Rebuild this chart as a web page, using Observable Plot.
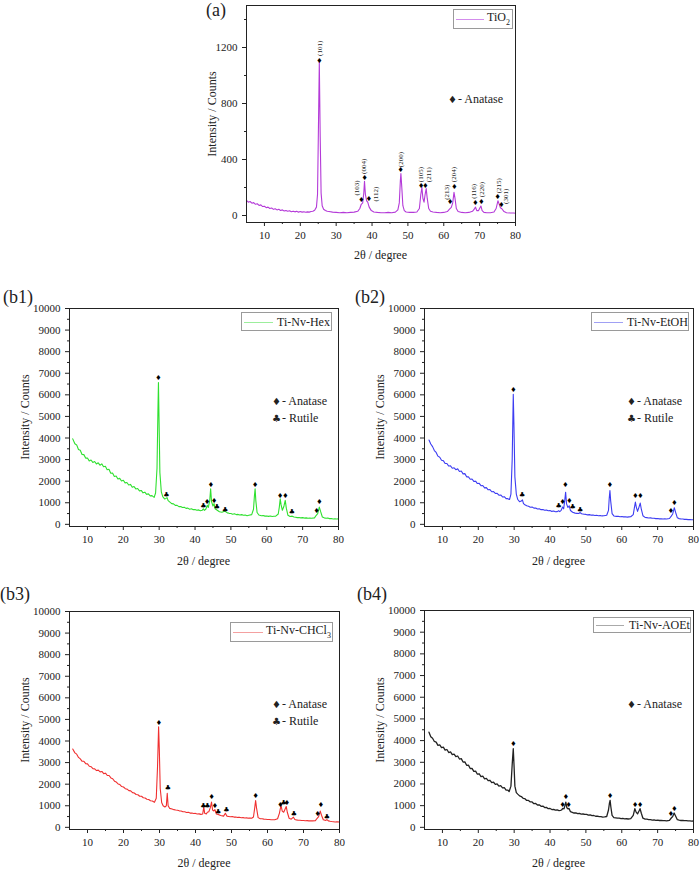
<!DOCTYPE html>
<html>
<head>
<meta charset="utf-8">
<script src="https://cdn.jsdelivr.net/npm/d3@7"></script>
<script src="https://cdn.jsdelivr.net/npm/@observablehq/plot@0.6"></script>
<style>
  body { margin: 0; background: #fff; }
  #fig { position: relative; width: 700px; height: 871px; overflow: hidden;
         font-family: "Liberation Serif", "Times New Roman", serif; color: #222; }
  #fig svg { position: absolute; }
  .abs { position: absolute; white-space: nowrap; line-height: 1; }
  .tag { font-size: 18px; }
  .title { font-size: 12px; transform: translate(-50%, -50%); }
  .ytitle { font-size: 12px; transform: translate(-50%, -50%) rotate(-90deg); }
  .key { border: 1px solid #9a9a9a; background: #fff; font-size: 12px; box-sizing: border-box; }
  .key .ln { position: absolute; height: 0; border-top: 1px solid; top: 50%; }
  .key .tx { position: absolute; top: 50%; transform: translateY(-50%); }
  .phase { font-size: 12px; transform: translateY(-50%); }
  .glyph { font-family: "DejaVu Sans", sans-serif; font-size: 10px; display: inline-block; width: 7px; text-align: center; }
</style>
</head>
<body>
<div id="fig"></div>
<script>
// ---- axis ticks ----
const xMajor = [10, 20, 30, 40, 50, 60, 70, 80];
const xMinor = [15, 25, 35, 45, 55, 65, 75];
const aMajor = [0, 400, 800, 1200];
const aMinor = [200, 600, 1000, 1400];
const bMajor = [0, 1000, 2000, 3000, 4000, 5000, 6000, 7000, 8000, 9000, 10000];
const bMinor = [500, 1500, 2500, 3500, 4500, 5500, 6500, 7500, 8500, 9500];

// ---- (a) TiO2 pattern: [2θ, counts] ----
const tio2 = [[5,108],[5.5,95],[6,100],[6.5,88],[7,92],[7.5,80],[8,84],[8.5,72],[9,76],[9.5,64],[10,66],[10.5,56],[11,60],[11.5,50],[12,54],[12.5,44],[13,48],[13.5,40],[14,44],[14.5,36],[15,40],[15.5,32],[16,36],[16.5,30],[17,34],[17.5,27],[18,31],[18.5,26],[19,30],[19.5,24],[20,28],[20.5,24],[21,27],[21.5,23],[22,26],[22.5,24],[23,28],[23.5,30],[24,38],[24.5,60],[24.8,150],[25.0,520],[25.3,1095],[25.55,560],[25.8,160],[26.1,70],[26.5,45],[27,36],[27.5,30],[28,28],[29,24],[30,22],[31,20],[32,22],[33,20],[34,22],[35,24],[36,30],[36.6,50],[37.0,80],[37.4,90],[37.7,160],[37.9,245],[38.15,150],[38.5,105],[38.8,95],[39.2,60],[39.8,35],[40.5,25],[41.5,22],[42.5,20],[43.5,20],[44.5,22],[45.5,20],[46.5,24],[47.2,40],[47.6,90],[47.9,250],[48.05,300],[48.3,200],[48.6,70],[49,35],[49.5,25],[50.5,22],[51.5,22],[52.5,25],[53.2,50],[53.6,150],[53.9,200],[54.2,120],[54.5,95],[54.8,150],[55.1,192],[55.4,120],[55.8,50],[56.3,30],[57,25],[58,22],[59,20],[60,22],[61,28],[61.6,45],[62.1,58],[62.5,90],[62.85,165],[63.15,120],[63.5,50],[64,28],[65,22],[66,20],[67,22],[68,30],[68.5,45],[68.85,60],[69.2,35],[69.7,35],[70.1,55],[70.35,68],[70.7,35],[71.2,22],[72,20],[73,20],[74,25],[74.6,50],[75.1,105],[75.4,85],[75.8,55],[76.2,48],[76.8,28],[77.5,20],[78.5,18],[79.5,18],[80,16]];
const tio2Anatase = [[25.3,1105],[37.0,114],[37.95,273],[39.1,121],[48.0,330],[53.7,211],[54.9,211],[61.75,95],[62.97,207],[68.85,88],[70.5,100],[75.0,135],[76.1,74]];
const hklText = ["(101)","(103)","(004)","(112)","(200)","(105)","(211)","(213)","(204)","(116)","(220)","(215)","(301)"];
const hklTheta = [25.3, 35.7, 37.8, 40.9, 48.0, 53.6, 55.8, 60.9, 62.8, 68.4, 70.7, 75.4, 77.2];
const hklCounts = [1140, 143, 297, 100, 345, 238, 238, 112, 238, 119, 131, 159, 83];

// ---- (b1) Ti-Nv-Hex ----
const hex = [[5.9,3960],[6.5,3730],[7,3680],[7.5,3470],[8,3430],[8.5,3240],[9,3230],[9.5,3070],[10,3070],[10.5,2940],[11,2980],[11.5,2870],[12,2910],[12.5,2800],[13,2850],[13.5,2740],[14,2800],[14.5,2670],[15,2690],[15.5,2530],[16,2550],[16.5,2370],[17,2380],[17.5,2220],[18,2240],[18.5,2100],[19,2130],[19.5,2010],[20,2040],[20.5,1920],[21,1940],[21.5,1820],[22,1850],[22.5,1720],[23,1750],[23.5,1640],[24,1660],[24.5,1550],[25,1570],[25.5,1460],[26,1490],[26.5,1390],[27,1410],[27.5,1320],[28,1330],[28.6,1250],[29.0,1450],[29.4,2600],[29.65,5200],[29.8,6570],[29.95,5000],[30.2,2400],[30.6,1500],[31,1280],[31.5,1180],[31.9,1200],[32.2,1240],[32.5,1100],[33,1030],[33.5,960],[34,950],[34.5,880],[35,880],[35.5,820],[36,830],[36.5,780],[37,790],[37.5,740],[38,750],[38.5,700],[39,720],[39.5,680],[40,690],[40.5,650],[41,670],[41.5,630],[42,650],[42.3,720],[42.6,650],[43.0,700],[43.4,880],[43.7,780],[44.1,1100],[44.35,1650],[44.6,1050],[45.0,850],[45.3,960],[45.6,720],[46.2,650],[46.8,580],[47.5,560],[48.2,610],[48.5,590],[49,530],[49.5,510],[50,500],[50.5,470],[51,490],[51.5,450],[52,460],[52.5,430],[53,450],[53.5,420],[54,430],[54.5,400],[55,420],[55.8,450],[56.3,700],[56.55,1300],[56.75,1646],[56.95,1100],[57.3,550],[57.8,430],[58.5,400],[59,410],[59.5,380],[60,390],[60.5,370],[61,385],[61.5,360],[62,375],[62.5,380],[63.2,480],[63.5,800],[63.75,1185],[64.0,900],[64.35,650],[64.8,850],[65.15,1108],[65.45,750],[65.9,420],[66.5,360],[67.1,380],[67.6,340],[68,330],[68.5,310],[69,320],[69.5,300],[70,310],[70.5,290],[71,300],[71.5,280],[72,295],[72.5,285],[73.3,300],[73.8,420],[74.2,500],[74.65,800],[75.0,600],[75.5,340],[76,300],[76.5,280],[77,290],[77.5,265],[78,270],[78.5,250],[79,262],[79.5,245],[80,255]];
const hexAnatase = [[29.8,6800],[43.4,1062],[44.4,1815],[45.3,1108],[56.75,1846],[63.7,1308],[65.2,1308],[73.9,615],[74.7,1030]];
const hexRutile = [[32.0,1370],[42.3,877],[46.1,800],[48.4,677],[67.0,570]];

// ---- (b2) Ti-Nv-EtOH ----
const etoh = [[6.25,3910],[6.75,3720],[7.25,3600],[7.75,3420],[8.25,3330],[8.75,3160],[9.25,3110],[9.75,2970],[10.25,2950],[10.75,2820],[11.25,2820],[11.75,2700],[12.25,2710],[12.75,2600],[13.25,2620],[13.75,2530],[14.25,2570],[14.75,2450],[15.25,2470],[15.75,2340],[16.25,2350],[16.75,2200],[17.25,2200],[17.75,2090],[18.25,2100],[18.75,1990],[19.25,2000],[19.75,1890],[20.25,1900],[20.75,1790],[21.25,1800],[21.75,1690],[22.25,1700],[22.75,1600],[23.25,1610],[23.75,1510],[24.25,1520],[24.75,1430],[25.25,1440],[25.75,1350],[26.25,1360],[26.75,1270],[27.25,1280],[27.75,1190],[28.2,1190],[28.7,1150],[29.1,1400],[29.45,3000],[29.75,6030],[29.95,4500],[30.2,2200],[30.6,1400],[31,1150],[31.5,1050],[32,1080],[32.3,1130],[32.6,960],[33,910],[33.5,860],[34,840],[34.5,790],[35,800],[35.5,750],[36,760],[36.5,710],[37,720],[37.5,680],[38,690],[38.5,650],[39,665],[39.5,630],[40,640],[40.5,600],[41,615],[41.5,580],[42,590],[42.4,630],[42.7,590],[43.1,650],[43.5,800],[43.8,720],[44.1,1100],[44.35,1490],[44.6,950],[45.0,780],[45.35,860],[45.7,640],[46.3,560],[47,520],[47.5,510],[48,500],[48.4,545],[48.8,490],[49.5,470],[50,460],[50.5,440],[51,450],[51.5,425],[52,430],[52.5,410],[53,420],[53.5,400],[54,410],[54.5,390],[55,395],[55.8,420],[56.3,650],[56.5,1200],[56.7,1570],[56.9,1100],[57.3,500],[57.8,390],[58.5,370],[59,375],[59.5,355],[60,360],[60.5,345],[61,350],[61.5,335],[62,345],[62.5,350],[63.2,450],[63.5,750],[63.8,1030],[64.05,800],[64.4,600],[64.8,800],[65.15,985],[65.45,700],[65.9,400],[66.5,320],[67,310],[67.5,295],[68,300],[68.5,280],[69,285],[69.5,265],[70,270],[70.5,255],[71,262],[71.5,245],[72,255],[72.5,250],[73.3,270],[73.8,380],[74.2,480],[74.65,770],[75.0,560],[75.5,300],[76,265],[76.5,250],[77,245],[77.5,230],[78,232],[78.5,218],[79,225],[79.5,212],[80,210]];
const etohAnatase = [[29.8,6246],[43.5,1062],[44.3,1831],[45.4,1077],[56.7,1846],[63.8,1308],[65.2,1308],[73.7,615],[74.7,1015]];
const etohRutile = [[32.2,1370],[42.4,877],[46.3,800],[48.4,677]];

// ---- (b3) Ti-Nv-CHCl3 ----
const chcl3 = [[5.9,3630],[6.5,3450],[7,3390],[7.5,3240],[8,3170],[8.5,3060],[9,3060],[9.5,2950],[10,2940],[10.5,2830],[11,2810],[11.5,2720],[12,2710],[12.5,2630],[13,2650],[13.5,2570],[14,2590],[14.5,2490],[15,2510],[15.5,2400],[16,2400],[16.5,2290],[17,2250],[17.5,2140],[18,2100],[18.5,2010],[19,1980],[19.5,1890],[20,1870],[20.5,1790],[21,1770],[21.5,1700],[22,1690],[22.5,1610],[23,1590],[23.5,1520],[24,1510],[24.5,1440],[25,1440],[25.5,1370],[26,1360],[26.5,1300],[27,1290],[27.5,1230],[28,1220],[28.6,1160],[29.1,1350],[29.45,2800],[29.75,4654],[29.95,3600],[30.2,1800],[30.6,1150],[31.0,1000],[31.5,940],[31.9,1000],[32.15,1580],[32.4,1000],[32.8,880],[33.5,850],[34,820],[34.5,800],[35,790],[35.5,765],[36,760],[36.5,725],[37,720],[37.5,690],[38,695],[38.5,660],[39,665],[39.5,640],[40,645],[40.5,620],[41,625],[41.5,600],[42.0,620],[42.3,940],[42.55,650],[43.0,620],[43.3,700],[43.7,720],[44.1,900],[44.45,1170],[44.75,800],[45.1,760],[45.4,820],[45.8,620],[46.3,600],[47,545],[47.8,520],[48.3,650],[48.7,520],[49.2,505],[49.7,490],[50.2,495],[50.7,475],[51.2,480],[51.7,460],[52.2,465],[52.7,445],[53.2,450],[53.7,435],[54.2,440],[54.7,425],[55.2,430],[55.6,420],[56.1,480],[56.45,900],[56.7,1244],[56.95,900],[57.4,450],[58,400],[58.5,395],[59,380],[59.5,375],[60,360],[60.5,360],[61,350],[61.5,352],[62,350],[62.8,400],[63.3,650],[63.75,1014],[64.1,750],[64.5,700],[64.9,850],[65.2,968],[65.5,700],[66,420],[66.6,380],[67.2,470],[67.6,360],[68,345],[68.5,330],[69,330],[69.5,318],[70,320],[70.5,308],[71,310],[71.5,298],[72,302],[72.5,298],[73.3,310],[73.8,420],[74.2,500],[74.65,753],[75.0,560],[75.5,350],[76.2,320],[76.5,360],[76.9,300],[77.4,280],[77.8,270],[78.3,262],[78.8,250],[79.3,252],[80,246]];
const chcl3Anatase = [[29.8,4854],[44.5,1398],[45.4,1014],[56.7,1475],[63.6,1044],[65.4,1121],[73.9,630],[74.8,1044]];
const chcl3Rutile = [[32.3,1812],[42.2,1014],[43.3,1014],[46.3,707],[48.6,814],[64.5,1121],[67.3,630],[76.5,507]];

// ---- (b4) Ti-Nv-AOEt ----
const aoet = [[6.25,4390],[6.75,4180],[7.25,4110],[7.75,3960],[8.25,3930],[8.75,3780],[9.25,3800],[9.75,3680],[10.25,3700],[10.75,3560],[11.25,3590],[11.75,3450],[12.25,3480],[12.75,3350],[13.25,3380],[13.75,3260],[14.25,3290],[14.75,3150],[15.25,3170],[15.75,3010],[16.25,3020],[16.75,2860],[17.25,2870],[17.75,2710],[18.25,2720],[18.75,2580],[19.25,2590],[19.75,2450],[20.25,2470],[20.75,2340],[21.25,2360],[21.75,2240],[22.25,2260],[22.75,2150],[23.25,2170],[23.75,2060],[24.25,2080],[24.75,1980],[25.25,2000],[25.75,1900],[26.25,1920],[26.75,1820],[27.25,1830],[27.75,1720],[28.2,1720],[28.6,1650],[29.1,1900],[29.45,2900],[29.75,3625],[29.95,2900],[30.2,1900],[30.6,1600],[31,1530],[31.5,1450],[32,1420],[32.5,1340],[33,1320],[33.5,1240],[34,1240],[34.5,1170],[35,1170],[35.5,1090],[36,1100],[36.5,1030],[37,1040],[37.5,970],[38,980],[38.5,910],[39,920],[39.5,860],[40,870],[40.5,820],[41,830],[41.5,790],[42,800],[42.5,770],[42.9,780],[43.2,800],[43.55,870],[43.9,850],[44.15,1000],[44.4,1160],[44.7,900],[45.0,850],[45.3,870],[45.7,720],[46.2,690],[46.7,660],[47.2,665],[47.7,630],[48.2,640],[48.7,610],[49.2,615],[49.7,595],[50.2,600],[50.7,565],[51.2,570],[51.7,540],[52.2,545],[52.7,510],[53.2,515],[53.7,490],[54.2,495],[54.7,475],[55.2,480],[55.8,500],[56.3,800],[56.55,1100],[56.75,1244],[56.95,950],[57.3,550],[57.8,450],[58.3,440],[58.8,425],[59.3,425],[59.8,405],[60.3,410],[60.8,390],[61.3,395],[61.8,385],[62.5,400],[63.2,550],[63.65,860],[64.0,700],[64.4,620],[64.8,750],[65.1,860],[65.45,650],[65.9,420],[66.5,380],[67,375],[67.5,355],[68,360],[68.5,335],[69,340],[69.5,325],[70,330],[70.5,315],[71,320],[71.5,305],[72,310],[72.5,300],[73.3,320],[73.8,430],[74.2,500],[74.6,660],[75.0,520],[75.5,350],[76,330],[76.5,315],[77,320],[77.5,305],[78,308],[78.5,296],[79,300],[79.5,290],[80,292]];
const aoetAnatase = [[29.75,3855],[43.5,1044],[44.4,1398],[45.2,1044],[56.75,1444],[63.7,1044],[65.1,1060],[73.7,630],[74.7,860]];

// ---- drawing ----
const fig = document.getElementById("fig");
const serif = "'Liberation Serif', 'Times New Roman', serif";

function markText(points, glyph) {
  return Plot.text(points, {
    x: d => d[0], y: d => d[1], text: () => glyph,
    fontFamily: "DejaVu Sans", fontSize: 7, fill: "#000"
  });
}

function xrdPanel(o) {
  const marks = [
    Plot.line(o.data, {x: d => d[0], y: d => d[1], stroke: o.color, strokeWidth: o.strokeWidth || 1.1}),
    markText(o.anatase, "♦")
  ];
  if (o.rutile) marks.push(markText(o.rutile, "♣"));
  if (o.extra) marks.push(...o.extra);
  marks.push(
    Plot.axisX({ticks: xMajor, tickSize: 4, tickFormat: d => String(d), label: null, fontFamily: serif}),
    Plot.axisX({ticks: xMinor, tickSize: 2, text: null, label: null}),
    Plot.axisY({ticks: o.yMajor, tickSize: 4, tickFormat: d => String(d), label: null, fontFamily: serif}),
    Plot.axisY({ticks: o.yMinor, tickSize: 2, text: null, label: null}),
    Plot.frame({stroke: "#222", strokeWidth: 1})
  );
  const svg = Plot.plot({
    width: o.w, height: o.h,
    marginLeft: o.m[0], marginRight: o.m[1], marginTop: o.m[2], marginBottom: o.m[3],
    style: {fontFamily: serif, fontSize: "11px", color: "#222", background: "transparent", overflow: "visible"},
    x: {domain: [5, 80]},
    y: {domain: o.yDomain},
    marks
  });
  svg.style.left = o.left + "px";
  svg.style.top = o.top + "px";
  fig.appendChild(svg);

  // frame box in page coordinates
  const fl = o.left + o.m[0], fr = o.left + o.w - o.m[1];
  const ft = o.top + o.m[2], fb = o.top + o.h - o.m[3];
  addDiv("abs title", "2θ / degree", (fl + fr) / 2, fb + o.xTitleGap);
  addDiv("abs ytitle", "Intensity / Counts", fl - o.yTitleGap, (ft + fb) / 2);
}

function addDiv(cls, html, x, y, extraStyle) {
  const d = document.createElement("div");
  d.className = cls;
  d.innerHTML = html;
  d.style.left = x + "px";
  d.style.top = y + "px";
  if (extraStyle) Object.assign(d.style, extraStyle);
  fig.appendChild(d);
  return d;
}

function keyBox(label, color, x, y, w, h, lineW, textX) {
  const d = addDiv("abs key", "", x, y, {width: w + "px", height: h + "px"});
  const ln = document.createElement("div");
  ln.className = "ln";
  ln.style.left = "2px"; ln.style.width = lineW + "px"; ln.style.borderColor = color;
  d.appendChild(ln);
  const tx = document.createElement("div");
  tx.className = "tx";
  tx.style.left = textX + "px";
  tx.innerHTML = label;
  d.appendChild(tx);
}

function phaseKey(glyph, name, x, y) {
  addDiv("abs phase", `<span class="glyph">${glyph}</span> - ${name}`, x - 4, y);
}

// (a)
const hklMarks = Plot.text(hklText, {
  x: (d, i) => hklTheta[i], y: (d, i) => hklCounts[i], text: d => d,
  rotate: -90, textAnchor: "start", fontSize: 7, fill: "#222", fontFamily: serif
});
xrdPanel({data: tio2, color: "#b43ad8", anatase: tio2Anatase, extra: [hklMarks],
  yMajor: aMajor, yMinor: aMinor, yDomain: [-50, 1500],
  left: 170, top: 0, w: 360, h: 270, m: [76, 15, 5, 48], xTitleGap: 33, yTitleGap: 34});
addDiv("abs tag", "(a)", 206, 1);
keyBox("TiO<sub style='font-size:8px'>2</sub>", "#d38cec", 453, 9, 60, 20, 28, 33);
phaseKey("♦", "Anatase", 452, 99);

// (b1)
xrdPanel({data: hex, color: "#2fe02f", anatase: hexAnatase, rutile: hexRutile,
  yMajor: bMajor, yMinor: bMinor, yDomain: [-100, 10000],
  left: 0, top: 290, w: 350, h: 290, m: [69, 12, 18, 54], xTitleGap: 35, yTitleGap: 44});
addDiv("abs tag", "(b1)", 3, 288);
keyBox("Ti-Nv-Hex", "#9cee9c", 241, 312, 91, 19, 29, 35);
phaseKey("♦", "Anatase", 276, 401);
phaseKey("♣", "Rutile", 276, 418);

// (b2)
xrdPanel({data: etoh, color: "#3d3df2", anatase: etohAnatase, rutile: etohRutile,
  yMajor: bMajor, yMinor: bMinor, yDomain: [-100, 10000],
  left: 350, top: 290, w: 350, h: 290, m: [74, 7, 18, 54], xTitleGap: 35, yTitleGap: 44});
addDiv("abs tag", "(b2)", 355, 288);
keyBox("Ti-Nv-EtOH", "#a0a0f4", 591, 312, 98, 19, 29, 35);
phaseKey("♦", "Anatase", 631, 401);
phaseKey("♣", "Rutile", 631, 418);

// (b3)
xrdPanel({data: chcl3, color: "#f03030", anatase: chcl3Anatase, rutile: chcl3Rutile,
  yMajor: bMajor, yMinor: bMinor, yDomain: [-100, 10000],
  left: 0, top: 590, w: 350, h: 281, m: [69, 11, 21, 42], xTitleGap: 34, yTitleGap: 44});
addDiv("abs tag", "(b3)", 0, 585);
keyBox("Ti-Nv-CHCl<sub style='font-size:8px'>3</sub>", "#f4a0a0", 230, 622, 103, 20, 30, 35);
phaseKey("♦", "Anatase", 276, 704);
phaseKey("♣", "Rutile", 276, 721);

// (b4)
xrdPanel({data: aoet, color: "#222", anatase: aoetAnatase, strokeWidth: 1.3,
  yMajor: bMajor, yMinor: bMinor, yDomain: [-100, 10000],
  left: 350, top: 590, w: 350, h: 281, m: [74, 7, 20, 42], xTitleGap: 34, yTitleGap: 44});
addDiv("abs tag", "(b4)", 357, 585);
keyBox("Ti-Nv-AOEt", "#aaaaaa", 593, 617, 98, 16, 28, 35);
phaseKey("♦", "Anatase", 631, 704);
</script>
</body>
</html>
